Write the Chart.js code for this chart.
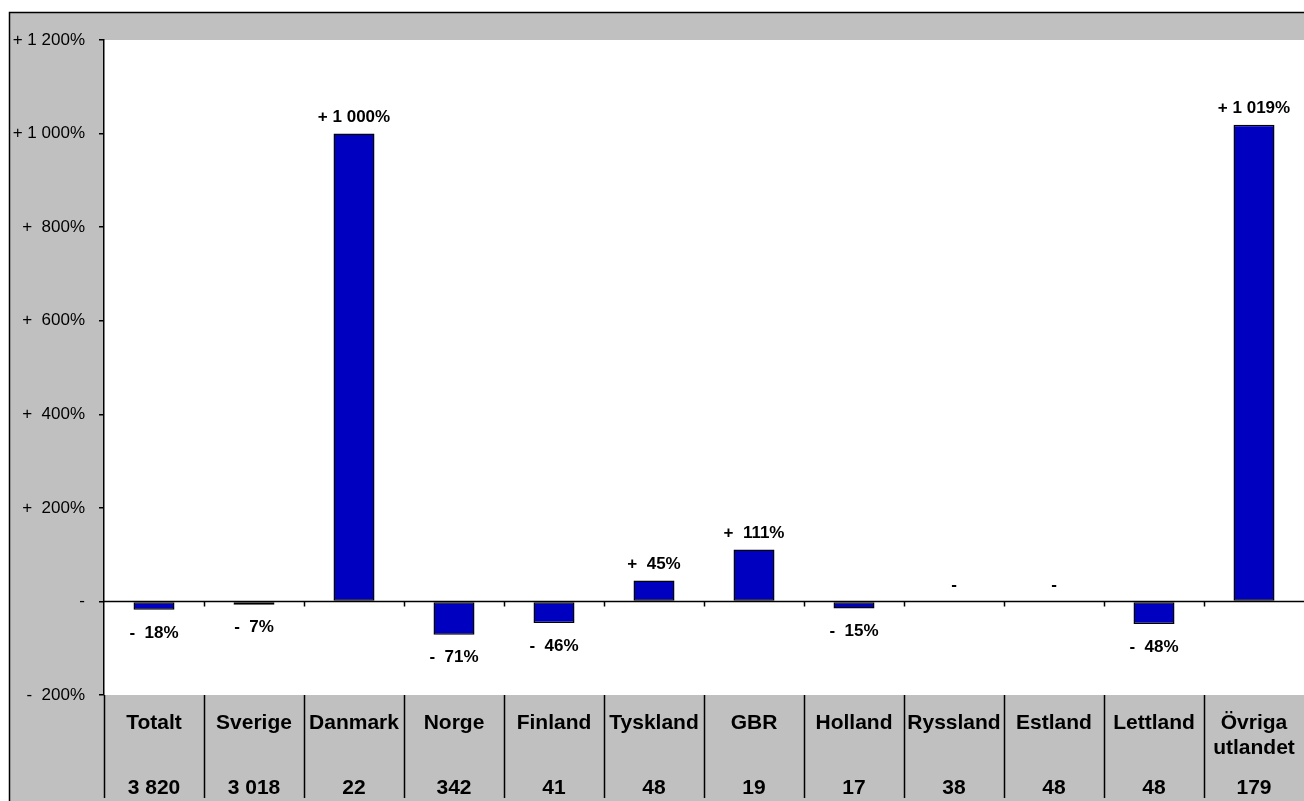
<!DOCTYPE html>
<html>
<head>
<meta charset="utf-8">
<script src="https://cdn.jsdelivr.net/npm/chart.js@4/dist/chart.umd.min.js"></script>
<style>
html,body{margin:0;padding:0;background:#fff;}
canvas{display:block;}
</style>
</head>
<body>
<canvas id="c" width="1304" height="801"></canvas>
<script>
const categories = ['Totalt','Sverige','Danmark','Norge','Finland','Tyskland','GBR','Holland','Ryssland','Estland','Lettland',['Övriga','utlandet']];
const changePct = [-18,-7,1000,-71,-46,45,111,-15,0,0,-48,1019];
const counts = ['3 820','3 018','22','342','41','48','19','17','38','48','48','179'];
const yTicks = {min:-200, max:1200, step:200};

function fmtPct(v){
  if (v === 0) return '-';
  const a = Math.abs(v);
  const sign = v > 0 ? '+' : '-';
  let s;
  if (a >= 1000) s = Math.floor(a/1000) + ' ' + String(a%1000).padStart(3,'0');
  else s = ' ' + String(a);
  return sign + ' ' + s + '%';
}

const GRAY = '#C0C0C0';
const BAR = '#0000C0';
const FONT = '"Liberation Sans", Arial, sans-serif';

const framePlugin = {
  id:'frame',
  beforeDraw(chart){
    const {ctx, chartArea:ca} = chart;
    ctx.save();
    ctx.fillStyle = '#fff';
    ctx.fillRect(0,0,chart.width,chart.height);
    ctx.fillStyle = GRAY;
    ctx.fillRect(9,12,chart.width-9,chart.height-12);
    ctx.fillStyle = '#fff';
    ctx.fillRect(ca.left,ca.top,ca.right-ca.left,ca.bottom-ca.top);
    ctx.strokeStyle = '#000';
    ctx.lineWidth = 1.5;
    ctx.beginPath();
    ctx.moveTo(9.5,chart.height);
    ctx.lineTo(9.5,12.5);
    ctx.lineTo(chart.width,12.5);
    ctx.stroke();
    ctx.restore();
  },
  afterDatasetsDraw(chart){
    const {ctx, chartArea:ca, scales:{x,y}} = chart;
    const y0 = Math.round(y.getPixelForValue(0)) + 0.5;
    const n = categories.length;
    const step = (ca.right - ca.left)/n;
    ctx.save();
    ctx.strokeStyle = '#000';
    ctx.lineWidth = 1.5;
    ctx.beginPath();
    ctx.moveTo(ca.left,y0);
    ctx.lineTo(ca.right,y0);
    for (let i=1;i<n;i++){
      const bx = Math.round(x.getPixelForValue(i) - step/2) + 0.5;
      ctx.moveTo(bx,y0);
      ctx.lineTo(bx,y0+5);
    }
    ctx.stroke();

    // value labels
    ctx.fillStyle = '#000';
    ctx.font = 'bold 17px ' + FONT;
    ctx.textAlign = 'center';
    ctx.textBaseline = 'middle';
    const meta = chart.getDatasetMeta(0);
    meta.data.forEach((bar,i)=>{
      const v = changePct[i];
      const cx = bar.x;
      let ly;
      if (v >= 0) ly = Math.min(bar.y, bar.base) - 16;
      else ly = Math.max(bar.y, bar.base) + 23;
      ctx.fillText(fmtPct(v), cx, ly);
    });

    // table below
    ctx.lineWidth = 1.5;
    ctx.beginPath();
    for (let i=0;i<n;i++){
      const bx = Math.round(ca.left + step*i) + 0.5;
      ctx.moveTo(bx, ca.bottom);
      ctx.lineTo(bx, ca.bottom + 103);
    }
    ctx.stroke();
    ctx.font = 'bold 21px ' + FONT;
    categories.forEach((c,i)=>{
      const cx = x.getPixelForValue(i);
      if (Array.isArray(c)){
        ctx.fillText(c[0], cx, ca.bottom + 28);
        ctx.fillText(c[1], cx, ca.bottom + 53);
      } else {
        ctx.fillText(c, cx, ca.bottom + 28);
      }
      ctx.fillText(counts[i], cx, ca.bottom + 93);
    });
    ctx.restore();
  }
};

new Chart(document.getElementById('c'), {
  type:'bar',
  data:{
    labels: categories,
    datasets:[{
      data: changePct,
      backgroundColor: BAR,
      borderColor:'#000',
      borderWidth:1.5,
      borderSkipped:false,
      categoryPercentage:1,
      barPercentage:0.41
    }]
  },
  options:{
    responsive:false,
    animation:false,
    devicePixelRatio:1,
    layout:{padding:{left:0,top:40,right:0,bottom:106}},
    plugins:{legend:{display:false},tooltip:{enabled:false},title:{display:false}},
    scales:{
      x:{display:false},
      y:{
        min:yTicks.min,max:yTicks.max,
        afterFit(scale){ scale.width = 104; },
        grid:{drawOnChartArea:false,drawTicks:true,tickLength:5,color:'#000',lineWidth:1.5},
        border:{display:true,color:'#000',width:1.5},
        ticks:{
          stepSize:yTicks.step,
          padding:14,
          color:'#000',
          font:{family:FONT,size:17},
          callback:(v)=>fmtPct(v)
        }
      }
    }
  },
  plugins:[framePlugin]
});
</script>
</body>
</html>
